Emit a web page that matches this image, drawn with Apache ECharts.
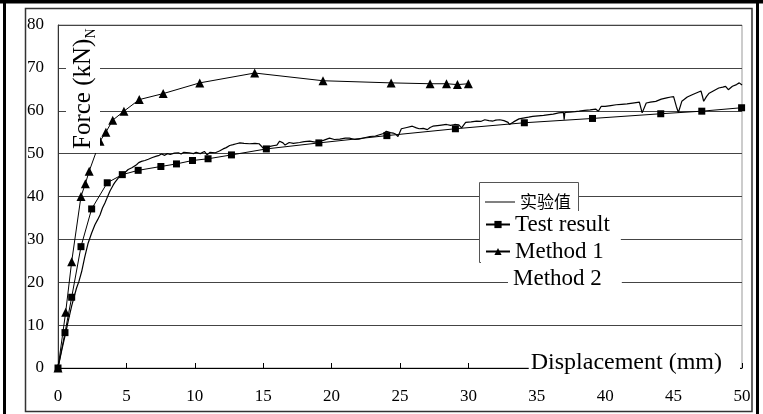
<!DOCTYPE html>
<html>
<head>
<meta charset="utf-8">
<script src="https://cdn.jsdelivr.net/npm/echarts/dist/echarts.min.js"></script>
<style>
  html, body { margin: 0; padding: 0; background: #fff; }
  #main { width: 763px; height: 414px; }
</style>
</head>
<body>
<div id="main"></div>
<script>
// 实验值 (noisy measured curve) [displacement mm, force kN]
const testCurve = [
  [0, 0], [0.3, 4.5], [0.55, 8.0], [0.75, 11], [1.0, 14.5], [1.17, 16.5], [1.35, 18.6], [1.53, 20.2],
  [1.73, 22.5], [1.95, 25.8], [2.2, 29.1], [2.46, 31.5], [2.7, 33.4], [2.9, 34.6], [3.07, 35.7],
  [3.25, 37.3], [3.43, 38.5], [3.55, 39.4], [3.8, 41.3], [4.04, 42.7], [4.16, 43.3], [4.4, 44.3],
  [4.65, 45.1], [4.9, 45.6], [5.13, 46.3], [5.4, 46.7], [5.74, 47.4], [5.9, 47.9], [6.1, 48.2],
  [6.35, 48.4], [6.6, 48.7], [6.9, 49.1], [7.2, 49.4], [7.4, 49.6], [7.57, 49.9], [7.8, 49.6],
  [8.0, 50.0], [8.2, 49.8], [8.5, 50.1], [8.8, 50.2], [9.0, 49.9], [9.2, 50.3], [9.6, 50.2],
  [9.9, 50.0], [10.1, 50.3], [10.4, 50.0], [10.7, 50.5], [10.9, 49.7], [11.1, 50.3], [11.5, 50.2],
  [11.8, 50.6], [12.07, 51.1], [12.3, 51.4], [12.55, 51.9], [12.8, 52.1], [13.04, 52.3], [13.3, 52.5],
  [13.6, 52.4], [14.0, 52.3], [14.4, 52.4], [14.7, 52.3], [15.0, 51.3], [15.2, 51.4], [15.5, 51.7],
  [15.8, 51.9], [16.0, 52.0], [16.2, 52.9], [16.3, 53.3], [16.45, 52.5], [16.6, 52.0], [16.9, 52.6],
  [17.2, 52.4], [17.66, 52.6], [18.0, 52.8], [18.4, 52.9], [18.8, 52.7], [19.1, 53.0], [19.4, 53.1],
  [19.85, 53.6], [20.2, 53.3], [20.6, 53.4], [21.0, 53.6], [21.3, 53.6], [21.7, 53.3], [22.0, 53.4],
  [22.4, 53.7], [22.8, 54.0], [23.2, 54.1], [23.5, 54.4], [23.8, 54.7], [24.0, 55.2], [24.3, 54.9],
  [24.5, 54.8], [24.7, 54.5], [24.85, 54.0], [25.1, 55.8], [25.5, 56.1], [25.9, 56.4], [26.2, 56.0],
  [26.4, 55.8], [26.7, 55.9], [27.0, 55.6], [27.2, 56.1], [27.4, 56.4], [27.9, 56.6], [28.4, 56.8],
  [28.7, 56.6], [29.0, 56.8], [29.3, 56.7], [29.5, 56.0], [29.8, 57.3], [30.2, 57.4], [30.6, 57.6],
  [30.9, 57.5], [31.2, 57.9], [31.5, 57.7], [31.8, 57.6], [32.0, 57.8], [32.3, 57.9], [32.6, 57.7],
  [32.9, 57.3], [33.0, 56.8], [33.3, 57.4], [33.7, 58.1], [34.0, 58.3], [34.4, 58.5], [34.7, 58.7],
  [35.1, 58.8], [35.5, 58.9], [35.9, 59.1], [36.2, 59.2], [36.6, 59.5], [36.95, 59.6], [37.0, 57.9],
  [37.05, 59.6], [37.4, 59.7], [37.8, 59.8], [38.1, 59.9], [38.5, 60.1], [38.9, 60.2], [39.3, 60.4],
  [39.5, 59.9], [39.7, 61.0], [40.0, 61.0], [40.4, 61.2], [40.8, 61.4], [41.2, 61.5], [41.6, 61.6],
  [42.0, 61.8], [42.5, 62.0], [42.7, 59.5], [43.0, 61.8], [43.3, 62.0], [43.7, 62.2], [44.1, 62.7],
  [44.5, 63.0], [44.8, 63.2], [45.0, 63.3], [45.2, 61.0], [45.35, 59.6], [45.6, 62.2], [46.0, 63.2],
  [46.4, 63.8], [46.7, 64.2], [47.0, 64.6], [47.1, 63.5], [47.2, 62.2], [47.4, 63.3], [47.6, 64.1],
  [48.0, 64.8], [48.3, 65.3], [48.6, 65.5], [48.8, 65.7], [49.0, 64.9], [49.3, 65.7], [49.6, 66.1],
  [49.8, 66.5], [50.0, 66.0]
];

// Test result (squares)
const testResult = [
  [0, 0], [0.51, 8.25], [1.0, 16.5], [1.68, 28.3], [2.46, 37.1], [3.6, 43.2], [4.7, 45.1],
  [5.86, 46.1], [7.52, 47.0], [8.66, 47.6], [9.83, 48.4], [10.97, 48.8], [12.68, 49.7],
  [15.23, 51.1], [19.07, 52.5], [24.04, 54.2], [29.05, 55.8], [34.09, 57.2], [39.07, 58.2],
  [44.06, 59.3], [47.06, 59.9], [49.97, 60.7]
];

// Method 1 (triangles)
const method1 = [
  [0, 0], [0.56, 13.0], [1.0, 24.8], [1.68, 40.0], [2.0, 43.0], [2.28, 45.9], [3.07, 52.9],
  [3.5, 55.0], [4.0, 57.8], [4.82, 59.9], [5.94, 62.6], [7.69, 64.0], [10.36, 66.5],
  [14.38, 68.8], [19.37, 67.0], [24.35, 66.5], [27.2, 66.3], [28.4, 66.3], [29.2, 66.1], [30.0, 66.3]
];

// Method 2: listed in the legend, no curve visible
const method2 = [];

const xTicks = [0, 50, 5];   // min, max, interval
const yTicks = [0, 80, 10];

const serif = "'Liberation Serif', 'DejaVu Serif', serif";
const chart = echarts.init(document.getElementById('main'));

chart.setOption({
  animation: false,
  backgroundColor: '#fff',
  grid: {
    left: 58, right: 21, top: 25, bottom: 46,
    show: true, borderColor: '#999', borderWidth: 1
  },
  xAxis: {
    type: 'value',
    min: xTicks[0], max: xTicks[1], interval: xTicks[2],
    axisLine: { lineStyle: { color: '#000', width: 1 } },
    axisTick: { inside: true, length: 5, lineStyle: { color: '#000' } },
    axisLabel: { fontFamily: serif, fontSize: 17, color: '#000', margin: 20 },
    splitLine: { show: false }
  },
  yAxis: {
    type: 'value',
    min: yTicks[0], max: yTicks[1], interval: yTicks[2],
    axisLine: { show: true, lineStyle: { color: '#333', width: 1 } },
    axisTick: { show: false },
    axisLabel: { fontFamily: serif, fontSize: 17, color: '#000', margin: 14 },
    splitLine: { lineStyle: { color: '#444', width: 1 } }
  },
  legend: [
    {
      data: [{ name: '实验值', icon: 'rect' }],
      orient: 'vertical', left: 485, top: 192, padding: 0,
      itemWidth: 30, itemHeight: 1, selectedMode: false,
      textStyle: { fontFamily: "'Noto Sans CJK SC'", fontSize: 17, color: '#000', lineHeight: 20 }
    },
    {
      data: ['Test result', 'Method 1'],
      orient: 'vertical', left: 481, top: 211, padding: [2, 11, 0, 4],
      itemWidth: 24, itemHeight: 9, itemGap: 4, selectedMode: false,
      backgroundColor: '#fff',
      textStyle: { fontFamily: serif, fontSize: 23, color: '#000', lineHeight: 22 }
    },
    {
      data: [{ name: 'Method 2', icon: 'none' }],
      orient: 'vertical', left: 508, top: 265, padding: [2, 20, 2, 0],
      itemWidth: 0, itemHeight: 9, selectedMode: false,
      backgroundColor: '#fff',
      textStyle: { fontFamily: serif, fontSize: 23, color: '#000', lineHeight: 22 }
    }
  ],
  graphic: [
    // outer frame
    { type: 'rect', shape: { x: 0, y: 0, width: 763, height: 3.5 }, style: { fill: '#000' } },
    { type: 'rect', shape: { x: 3, y: 0, width: 3, height: 414 }, style: { fill: '#000' } },
    { type: 'rect', shape: { x: 756, y: 0, width: 3, height: 414 }, style: { fill: '#000' } },
    // inner frame
    { type: 'rect', shape: { x: 25.5, y: 8.5, width: 726.5, height: 403 },
      style: { fill: 'none', stroke: '#333', lineWidth: 1.5 } },
    // legend box
    { type: 'rect', z: 3, shape: { x: 479.5, y: 182.5, width: 99, height: 80 },
      style: { fill: '#fff', stroke: '#555', lineWidth: 1 } },
    // y axis title
    {
      type: 'text', z: 10, x: 83, y: 153, rotation: Math.PI / 2,
      style: {
        text: '{a|Force (kN)}{s|N}',
        align: 'left', verticalAlign: 'middle',
        backgroundColor: '#fff', padding: [2, 2, 2, 4],
        rich: {
          a: { fontFamily: serif, fontSize: 25, lineHeight: 30, fill: '#000' },
          s: { fontFamily: serif, fontSize: 14, lineHeight: 30, fill: '#000', verticalAlign: 'bottom' }
        }
      }
    },
    // x axis title
    {
      type: 'text', z: 10, x: 740, y: 363,
      style: {
        text: 'Displacement (mm)',
        font: "24px 'Liberation Serif', serif", fill: '#000',
        align: 'right', verticalAlign: 'middle', lineHeight: 26,
        backgroundColor: '#fff', padding: [1, 18, 3, 2]
      }
    }
  ],
  series: [
    {
      name: '实验值', type: 'line', data: testCurve, symbol: 'none',
      color: '#000', lineStyle: { color: '#000', width: 1.2 }
    },
    {
      name: 'Method 1', type: 'line', data: method1,
      symbol: 'triangle', symbolSize: 9, color: '#000',
      lineStyle: { color: '#000', width: 1 }, itemStyle: { color: '#000' }, clip: false
    },
    {
      name: 'Test result', type: 'line', data: testResult,
      symbol: 'rect', symbolSize: 7, color: '#000',
      lineStyle: { color: '#000', width: 1 }, itemStyle: { color: '#000' }, clip: false
    },
    {
      name: 'Method 2', type: 'line', data: method2, symbol: 'none',
      color: '#000', lineStyle: { opacity: 0 }
    }
  ]
});
</script>
</body>
</html>
